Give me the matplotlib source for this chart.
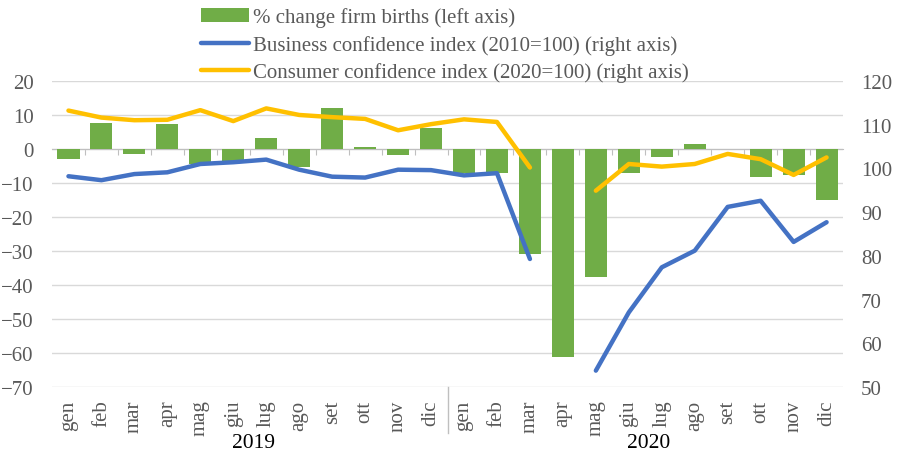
import matplotlib.pyplot as plt
from matplotlib.transforms import blended_transform_factory
import numpy as np

plt.rcParams['font.family'] = ['Liberation Serif', 'DejaVu Serif']

months = ["gen", "feb", "mar", "apr", "mag", "giu", "lug", "ago", "set", "ott", "nov", "dic"]
years = ["2019", "2020"]
categories = months + months

# % change firm births (left axis)
firm_births = [-2.9, 7.6, -1.6, 7.2, -4.5, -4.0, 3.3, -5.4, 12.1, 0.7, -1.7, 6.0,
               -7.1, -7.1, -31.0, -61.2, -37.5, -7.1, -2.3, 1.5, 0.0, -8.3, -7.8, -15.1]
# Business confidence index (2010=100), apr 2020 missing
business = [98.2, 97.3, 98.7, 99.1, 101.0, 101.4, 102.0, 99.7, 98.1, 97.9, 99.7, 99.6,
            98.4, 98.9, 79.3, np.nan, 53.8, 67.1, 77.4, 81.2, 91.2, 92.6, 83.2, 87.7]
# Consumer confidence index (2020=100), apr 2020 missing
consumer = [113.2, 111.6, 111.0, 111.1, 113.3, 110.8, 113.7, 112.2, 111.7, 111.3, 108.7, 110.1,
            111.2, 110.6, 100.2, np.nan, 94.9, 101.0, 100.4, 101.0, 103.3, 102.1, 98.5, 102.5]

green = "#70ad47"
blue = "#4472c4"
yellow = "#ffc000"
gray = "#595959"

fig = plt.figure(figsize=(9.01, 4.52), dpi=100)
ax = fig.add_axes([0.0577, 0.141, 0.878, 0.678])
x = np.arange(len(categories))

bars = ax.bar(x, firm_births, width=0.67, color=green, zorder=2,
              label="% change firm births (left axis)")
ax.set_ylim(-70, 20)
ax.set_yticks(range(-70, 21, 10))
ax.set_xlim(-0.5, len(categories) - 0.5)
ax.grid(axis="y", color="#d9d9d9", linewidth=1, zorder=0)
ax.set_axisbelow(True)
for s in ["top", "left", "right"]:
    ax.spines[s].set_visible(False)
ax.spines["bottom"].set_position(("data", 0))
ax.spines["bottom"].set_color("#bfbfbf")
ax.spines["bottom"].set_zorder(1)
ax.set_xticks(np.arange(0.5, len(categories) - 1, 1))
ax.tick_params(axis="x", length=4, color="#bfbfbf", labelbottom=False)
ax.tick_params(axis="y", length=0, labelsize=15, labelcolor=gray, pad=13)

ax2 = ax.twinx()
ln1, = ax2.plot(x, business, color=blue, linewidth=3.2, solid_capstyle="round",
                label="Business confidence index (2010=100) (right axis)", zorder=3)
ln2, = ax2.plot(x, consumer, color=yellow, linewidth=3.2, solid_capstyle="round",
                label="Consumer confidence index (2020=100) (right axis)", zorder=3)
ax2.set_ylim(50, 120)
ax2.set_yticks(range(50, 121, 10))
for s in ax2.spines.values():
    s.set_visible(False)
ax2.tick_params(axis="y", length=0, labelsize=15, labelcolor=gray, pad=13)

# category axis labels
trans = blended_transform_factory(ax.transData, ax.transAxes)
for i, m in enumerate(categories):
    ax.text(i, -0.04, m, transform=trans, rotation=90, ha="center", va="top",
            fontsize=15, color=gray)
for j, yr in enumerate(years):
    ax.text(j * 12 + 5.6, -0.15, yr, transform=trans, ha="center", va="top",
            fontsize=15.5, color="black")
ax.plot([11.5, 11.5], [0, -0.148], transform=trans, color="#bfbfbf",
        linewidth=1, clip_on=False)

fig.legend(handles=[bars, ln1, ln2], loc="upper left", bbox_to_anchor=(0.214, 1.0),
           frameon=False, fontsize=15, handlelength=2.3, handletextpad=0.2,
           labelspacing=0.37, labelcolor=gray, borderaxespad=0)

fig.savefig("out.png", dpi=100)
